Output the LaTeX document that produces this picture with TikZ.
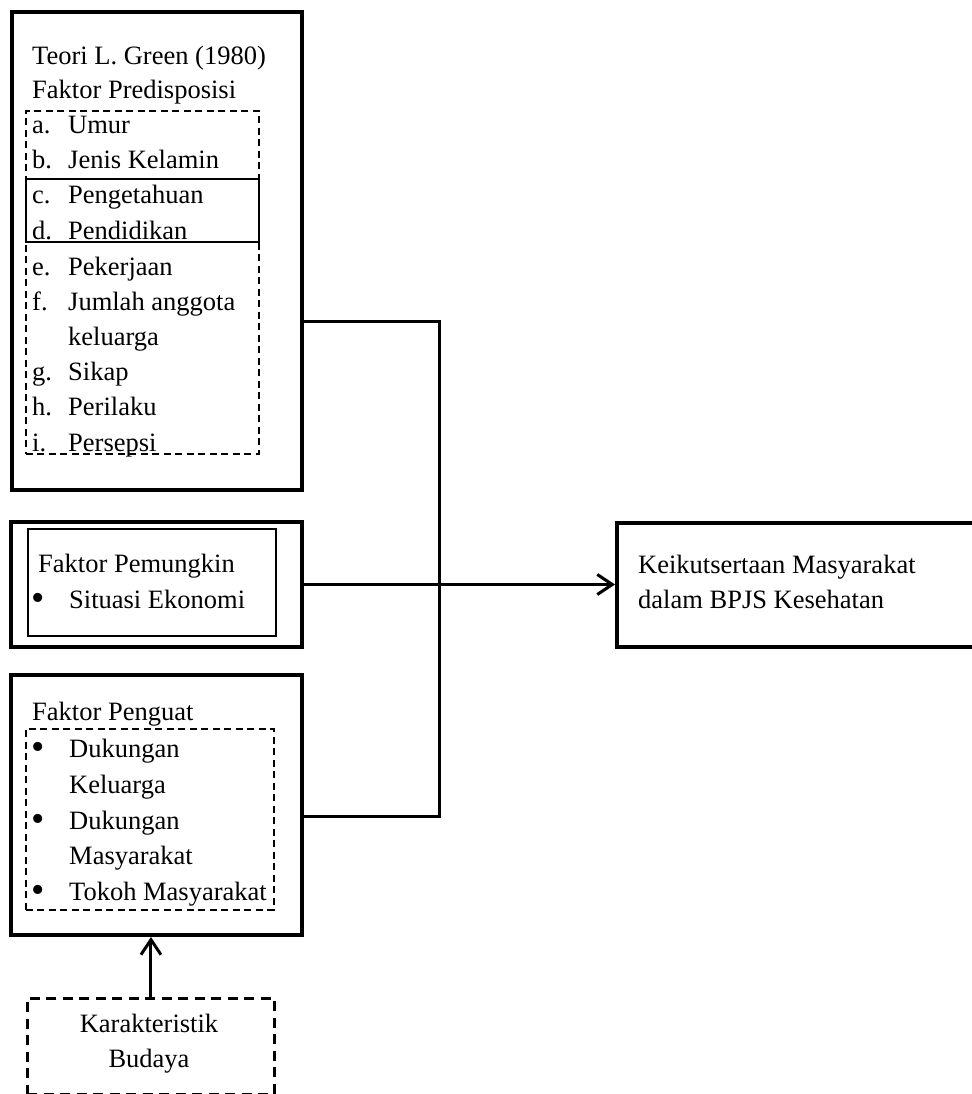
\documentclass[tikz,border=0pt]{standalone}
\usepackage{fontspec}
\setmainfont{Liberation Serif}
\usetikzlibrary{arrows.meta}
\tikzset{
  txt/.style={anchor=base west, inner sep=0pt, font=\fontsize{26.5}{35}\selectfont},
  ctxt/.style={anchor=base, inner sep=0pt, font=\fontsize{26.5}{35}\selectfont},
  bul/.style={anchor=center, inner sep=0pt, font=\fontsize{38}{40}\selectfont},
  boxnode/.style={inner sep=0pt, anchor=north west},
  thickbox/.style={boxnode, draw, line width=4pt},
  thinbox/.style={boxnode, draw, line width=1.8pt},
  dashbox/.style={boxnode, draw, line width=1.7pt, dash pattern=on 7pt off 4.5pt},
  bigdash/.style={boxnode, draw, line width=2.9pt, dash pattern=on 10pt off 6.5pt},
  conn/.style={line width=3pt},
  openarrow/.style={-{Straight Barb[length=15pt, width=20pt]}}
}
\begin{document}
\begin{tikzpicture}[x=1pt, y=-1pt]
\useasboundingbox (0,0) rectangle (971,1094);

% Box 1
\node[thickbox, minimum width=290pt, minimum height=478pt] (b1) at (10,10) {};
\node[dashbox, minimum width=233pt, minimum height=343pt] (d1) at (25,110) {};
\node[thinbox, minimum width=233pt, minimum height=63pt] (s1) at (25,178) {};
\node[txt] (t1) at (32,65) {Teori L. Green (1980)};
\node[txt] (t2) at (32,99) {Faktor Predisposisi};
\node[txt] (la) at (32,134) {a.};  \node[txt] (ia) at (68,134) {Umur};
\node[txt] (lb) at (32,169) {b.};  \node[txt] (ib) at (68,169) {Jenis Kelamin};
\node[txt] (lc) at (32,204) {c.};  \node[txt] (ic) at (68,204) {Pengetahuan};
\node[txt] (ld) at (32,239) {d.};  \node[txt] (id) at (68,239) {Pendidikan};
\node[txt] (le) at (32,275) {e.};  \node[txt] (ie) at (68,275) {Pekerjaan};
\node[txt] (lf) at (32,310) {f.};  \node[txt] (if) at (68,310) {Jumlah anggota};
\node[txt] (if2) at (68,345) {keluarga};
\node[txt] (lg) at (32,380) {g.};  \node[txt] (ig) at (68,380) {Sikap};
\node[txt] (lh) at (32,415) {h.};  \node[txt] (ih) at (68,415) {Perilaku};
\node[txt] (li) at (32,451) {i.};  \node[txt] (ii) at (68,451) {Persepsi};

% Box 2
\node[thickbox, minimum width=291pt, minimum height=125pt] (b2) at (9,520) {};
\node[thinbox, minimum width=248pt, minimum height=107pt] (s2) at (27,528) {};
\node[txt] (p1) at (38,572) {Faktor Pemungkin};
\node[bul] (p2b) at (38,602) {•};
\node[txt] (p2) at (69,608) {Situasi Ekonomi};

% Box 3
\node[thickbox, minimum width=291pt, minimum height=260pt] (b3) at (9,673) {};
\node[dashbox, minimum width=248pt, minimum height=181pt] (d3) at (25,728) {};
\node[txt] (q0) at (32,720) {Faktor Penguat};
\node[bul] (q1b) at (38,751) {•}; \node[txt] (q1) at (69,757) {Dukungan};
\node[txt] (q1x) at (69,793) {Keluarga};
\node[bul] (q2b) at (38,823) {•}; \node[txt] (q2) at (69,829) {Dukungan};
\node[txt] (q2x) at (69,864) {Masyarakat};
\node[bul] (q3b) at (38,894) {•}; \node[txt] (q3) at (69,900) {Tokoh Masyarakat};

% Karakteristik Budaya
\node[bigdash, minimum width=247pt, minimum height=96pt] (kar) at (26,997) {};
\node[ctxt] (k1) at (149,1032) {Karakteristik};
\node[ctxt] (k2) at (149,1067) {Budaya};

% Result
\node[thickbox, minimum width=370pt, minimum height=124pt] (res) at (615,521) {};
\node[txt] (r1) at (638,573) {Keikutsertaan Masyarakat};
\node[txt] (r2) at (638,608) {dalam BPJS Kesehatan};

% Connectors
\coordinate (j1) at (439,321);
\coordinate (j3) at (439,816);
\draw[conn, line join=miter] (b1.east |- j1) -- (j1) -- (j3) -- (b3.east |- j3);
\draw[conn, openarrow] (b2.east) -- (b2.east -| res.west);
\draw[conn, openarrow] (kar.north) -- (kar.north |- b3.south);
\end{tikzpicture}
\end{document}
